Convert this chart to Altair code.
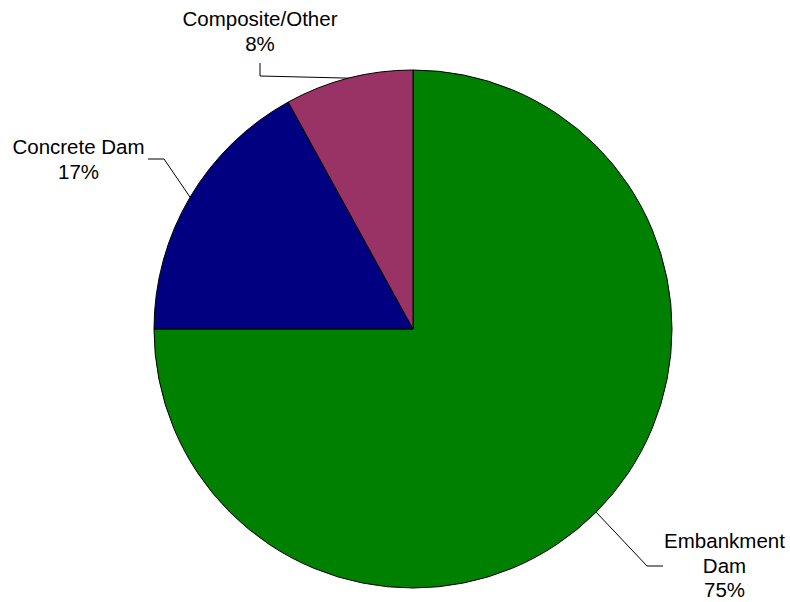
import math

import altair as alt
import pandas as pd

# Dam types and their share of the total
categories = ["Embankment Dam", "Concrete Dam", "Composite/Other"]
shares = [75, 17, 8]
label_lines = [["Embankment", "Dam"], ["Concrete Dam"], ["Composite/Other"]]
colors = ["#008000", "#000080", "#993366"]

# Layout (pixels)
W, H = 790, 602
CX, CY, R = 413, 329, 259
FONT = "Liberation Sans"
FONT_SIZE = 20.5
LINE_STEP = 24.5
# label text centre x / first baseline y, plus leader elbow and end points
label_layout = {
    "Embankment Dam": {"tx": 724.5, "ty": 548, "elbow": (647, 566), "end": (663, 566)},
    "Concrete Dam": {"tx": 78.5, "ty": 154, "elbow": (164, 159), "end": (148, 159)},
    "Composite/Other": {"tx": 260, "ty": 26, "elbow": (260, 76), "end": (260, 63)},
}

slices = pd.DataFrame({"category": categories, "share": shares, "rank": range(len(categories))})

# Leader lines start at the outer edge of each slice's mid-angle
total = sum(shares)
line_rows, text_rows = [], []
cum = 0
for cat, v, lines in zip(categories, shares, label_lines):
    mid = (cum + v / 2) / total * 2 * math.pi
    cum += v
    lay = label_layout[cat]
    pts = [(CX + R * math.sin(mid), CY - R * math.cos(mid)), lay["elbow"], lay["end"]]
    for i, (px, py) in enumerate(pts):
        line_rows.append({"category": cat, "i": i, "px": px, "py": py})
    for j, t in enumerate(lines + [f"{v}%"]):
        text_rows.append({"category": cat, "text": t, "px": lay["tx"], "py": lay["ty"] + j * LINE_STEP})

leaders = pd.DataFrame(line_rows)
texts = pd.DataFrame(text_rows)

xs = alt.Scale(domain=[0, W], range=[0, W])
ys = alt.Scale(domain=[0, H], range=[0, H])

pie = (
    alt.Chart(slices)
    .mark_arc(outerRadius=R, stroke="black", strokeWidth=1)
    .encode(
        theta=alt.Theta("share:Q", stack=True),
        order=alt.Order("rank:Q"),
        color=alt.Color("category:N", scale=alt.Scale(domain=categories, range=colors), legend=None),
        x=alt.value(CX),
        y=alt.value(CY),
    )
)

lines_layer = (
    alt.Chart(leaders)
    .mark_line(color="#000000", strokeWidth=1)
    .encode(
        x=alt.X("px:Q", scale=xs, axis=None),
        y=alt.Y("py:Q", scale=ys, axis=None),
        detail="category:N",
        order="i:Q",
    )
)

text_layer = (
    alt.Chart(texts)
    .mark_text(font=FONT, fontSize=FONT_SIZE, align="center", baseline="alphabetic", color="black")
    .encode(
        x=alt.X("px:Q", scale=xs, axis=None),
        y=alt.Y("py:Q", scale=ys, axis=None),
        text="text:N",
    )
)

chart = (
    alt.layer(pie, lines_layer, text_layer)
    .properties(width=W, height=H, autosize=alt.AutoSizeParams(type="none"), padding=0, background="white")
    .configure_view(stroke=None)
)

chart.save("out.html", embed_options={"renderer": "svg", "actions": False})
